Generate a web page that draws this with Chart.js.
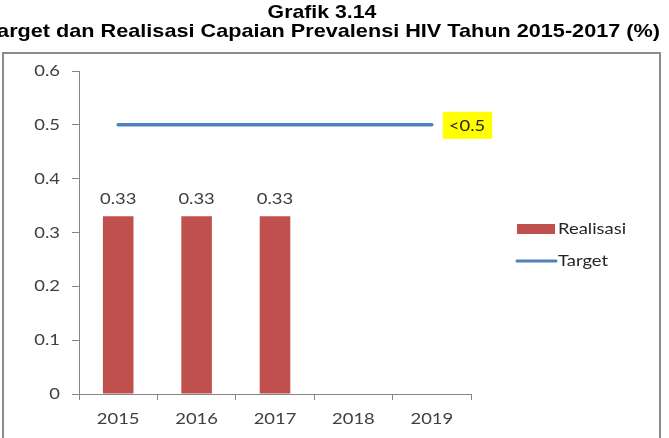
<!DOCTYPE html>
<html>
<head>
<meta charset="utf-8">
<script src="https://cdn.jsdelivr.net/npm/chart.js@4/dist/chart.umd.min.js"></script>
<style>
  html, body { margin: 0; padding: 0; background: #fff; }
  #wrap { width: 669px; height: 438px; position: relative; }
</style>
</head>
<body>
<div id="wrap"><canvas id="c" width="669" height="438"></canvas></div>
<script>
const titleLines = ["Grafik 3.14", "Target dan Realisasi Capaian Prevalensi HIV Tahun 2015-2017 (%)"];
const categories = ["2015", "2016", "2017", "2018", "2019"];
const realisasi = [0.33, 0.33, 0.33, null, null];
const target = [0.5, 0.5, 0.5, 0.5, 0.5];
const targetLabel = "<0.5";
const yTicks = [0, 0.1, 0.2, 0.3, 0.4, 0.5, 0.6];

const FONT = "Lato, 'Open Sans', sans-serif";
const TXT = "#404040";
const SX = 1.15;

// draw text horizontally stretched by sx; align: 'left' | 'center' | 'right'
function sText(ctx, txt, x, y, align, sx) {
  const w = ctx.measureText(txt).width * sx;
  let left = x;
  if (align === 'center') left = x - w / 2;
  else if (align === 'right') left = x - w;
  ctx.save();
  ctx.textAlign = 'left';
  ctx.translate(left, y);
  ctx.scale(sx, 1);
  ctx.fillText(txt, 0, 0);
  ctx.restore();
}

const decor = {
  id: 'decor',
  beforeDraw(chart) {
    const ctx = chart.ctx;
    ctx.save();
    ctx.fillStyle = '#fff';
    ctx.fillRect(0, 0, chart.width, chart.height);
    // frame
    ctx.strokeStyle = '#8c8c8c';
    ctx.lineWidth = 2;
    ctx.beginPath();
    ctx.moveTo(3, 445);
    ctx.lineTo(3, 53);
    ctx.lineTo(660, 53);
    ctx.lineTo(660, 445);
    ctx.stroke();
    // title
    ctx.fillStyle = '#000';
    ctx.font = "bold 19px 'Liberation Sans', Arial, sans-serif";
    ctx.textBaseline = 'alphabetic';
    sText(ctx, titleLines[0], 322, 18, 'center', 1.12);
    sText(ctx, titleLines[1], 660, 37, 'right', 1.14);
    ctx.restore();
  },
  afterDraw(chart) {
    const ctx = chart.ctx;
    ctx.save();
    ctx.font = "16px " + FONT;
    ctx.fillStyle = TXT;
    ctx.textBaseline = 'middle';
    // y tick labels
    const ys = chart.scales.y;
    ys.ticks.forEach(t => {
      const py = ys.getPixelForValue(t.value);
      sText(ctx, String(Math.round(t.value * 10) / 10), ys.right - 19, py, 'right', SX);
    });
    // x tick labels
    const xs = chart.scales.x;
    categories.forEach((c, i) => {
      const px = xs.getPixelForValue(i);
      sText(ctx, c, px, xs.top + 25, 'center', SX);
    });
    ctx.restore();
  },
  afterDatasetsDraw(chart) {
    const ctx = chart.ctx;
    ctx.save();
    // bar value labels
    const barMeta = chart.getDatasetMeta(0);
    ctx.font = "16px " + FONT;
    ctx.fillStyle = TXT;
    ctx.textBaseline = 'middle';
    barMeta.data.forEach((el, i) => {
      const v = realisasi[i];
      if (v === null || v === undefined) return;
      sText(ctx, v.toFixed(2), el.x, el.y - 18, 'center', SX);
    });
    // target annotation box at last point
    const lineMeta = chart.getDatasetMeta(1);
    const last = lineMeta.data[lineMeta.data.length - 1];
    const w = ctx.measureText(targetLabel).width * SX + 13;
    const bx = last.x + 11, by = last.y - 13;
    ctx.fillStyle = '#ffff00';
    ctx.fillRect(bx, by, Math.max(w, 47), 27);
    ctx.fillStyle = '#262626';
    sText(ctx, targetLabel, bx + 6, by + 14, 'left', SX);
    // legend
    const ds = chart.data.datasets;
    const lx = 517;
    ctx.fillStyle = ds[0].backgroundColor;
    ctx.fillRect(lx, 224, 38, 10);
    ctx.strokeStyle = ds[1].borderColor;
    ctx.lineWidth = 3;
    ctx.lineCap = 'round';
    ctx.beginPath();
    ctx.moveTo(lx, 261);
    ctx.lineTo(lx + 39, 261);
    ctx.stroke();
    ctx.fillStyle = '#262626';
    sText(ctx, ds[0].label, lx + 41, 229, 'left', SX);
    sText(ctx, ds[1].label, lx + 41, 261, 'left', SX);
    ctx.restore();
  }
};

new Chart(document.getElementById('c'), {
  type: 'bar',
  data: {
    labels: categories,
    datasets: [
      {
        type: 'bar',
        label: 'Realisasi',
        data: realisasi,
        backgroundColor: '#c0504d',
        borderWidth: 0,
        barPercentage: 0.78,
        categoryPercentage: 0.5,
        order: 2
      },
      {
        type: 'line',
        label: 'Target',
        data: target,
        borderColor: '#4f81bd',
        backgroundColor: '#4f81bd',
        borderWidth: 3.5,
        borderCapStyle: 'round',
        pointRadius: 0,
        tension: 0,
        order: 1
      }
    ]
  },
  options: {
    responsive: false,
    animation: false,
    devicePixelRatio: 1,
    layout: { padding: { left: 0, right: 198, top: 71, bottom: 0 } },
    plugins: {
      legend: { display: false },
      title: { display: false },
      tooltip: { enabled: false }
    },
    scales: {
      x: {
        offset: true,
        grid: {
          display: true,
          offset: true,
          drawOnChartArea: false,
          drawTicks: true,
          tickLength: 6,
          color: '#868686'
        },
        border: { display: true, color: '#868686', width: 1 },
        ticks: { display: false },
        afterFit(s) { s.height = 44; }
      },
      y: {
        min: 0,
        max: 0.6,
        afterBuildTicks(s) { s.ticks = yTicks.map(v => ({ value: v })); },
        grid: {
          display: true,
          drawOnChartArea: false,
          drawTicks: true,
          tickLength: 7,
          color: '#868686'
        },
        border: { display: true, color: '#868686', width: 1 },
        ticks: { display: false },
        afterFit(s) { s.width = 79; }
      }
    }
  },
  plugins: [decor]
});
</script>
</body>
</html>
